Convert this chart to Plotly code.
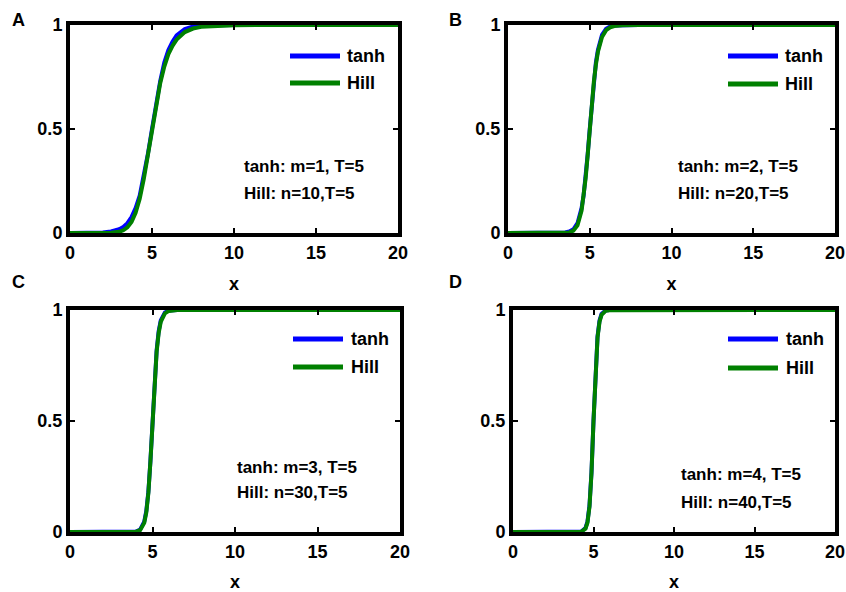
import plotly.graph_objects as go

# ---------------- data ----------------
xA = [0, 1, 2, 2.5, 3, 3.25, 3.5, 3.75, 4, 4.25, 4.5, 4.75, 5, 5.25, 5.5, 5.75,
      6, 6.25, 6.5, 7, 7.5, 8, 9, 10, 12, 20]
tanhA = [0, 0.0003, 0.0025, 0.007, 0.018, 0.029, 0.047, 0.076, 0.12, 0.18, 0.27, 0.38,
         0.5, 0.62, 0.73, 0.82, 0.88, 0.92, 0.95, 0.98, 0.993, 0.998, 1, 1, 1, 1]
hillA = [0, 0, 0.0001, 0.001, 0.006, 0.013, 0.027, 0.053, 0.097, 0.165, 0.26, 0.375,
         0.5, 0.62, 0.72, 0.80, 0.86, 0.90, 0.93, 0.966, 0.983, 0.991, 0.997, 0.999, 1, 1]

xB = [0, 2, 3, 3.5, 3.75, 4, 4.25, 4.5, 4.625, 4.75, 4.875, 5, 5.125, 5.25, 5.375,
      5.5, 5.75, 6, 6.25, 6.5, 7, 8, 20]
tanhB = [0, 0, 0.0003, 0.0025, 0.007, 0.018, 0.047, 0.12, 0.18, 0.27, 0.38, 0.5, 0.62,
         0.73, 0.82, 0.88, 0.953, 0.982, 0.993, 0.998, 1, 1, 1]
hillB = [0, 0, 0, 0.0008, 0.003, 0.011, 0.037, 0.108, 0.174, 0.264, 0.376, 0.5, 0.621,
         0.726, 0.809, 0.871, 0.942, 0.975, 0.989, 0.995, 0.999, 1, 1]

xC = [0, 3, 3.75, 4, 4.25, 4.5, 4.625, 4.75, 4.875, 5, 5.125, 5.25, 5.375, 5.5,
      5.75, 6, 6.5, 20]
tanhC = [0, 0, 0.0006, 0.0025, 0.011, 0.047, 0.095, 0.182, 0.32, 0.5, 0.68, 0.818,
         0.905, 0.953, 0.989, 0.998, 1, 1]
hillC = [0, 0, 0.0002, 0.0012, 0.008, 0.041, 0.088, 0.177, 0.319, 0.5, 0.677, 0.812,
         0.897, 0.946, 0.985, 0.996, 1, 1]

xD = [0, 3, 4, 4.25, 4.5, 4.625, 4.75, 4.875, 5, 5.125, 5.25, 5.375, 5.5, 5.75, 6, 20]
tanhD = [0, 0, 0.0003, 0.0025, 0.018, 0.047, 0.119, 0.269, 0.5, 0.731, 0.881, 0.953,
         0.982, 0.998, 1, 1]
hillD = [0, 0, 0.0001, 0.0015, 0.015, 0.042, 0.114, 0.266, 0.5, 0.729, 0.876, 0.947,
         0.978, 0.996, 0.999, 1]

panel_letters = ["A", "B", "C", "D"]
tanh_params = ["tanh: m=1, T=5", "tanh: m=2, T=5", "tanh: m=3, T=5", "tanh: m=4, T=5"]
hill_params = ["Hill: n=10,T=5", "Hill: n=20,T=5", "Hill: n=30,T=5", "Hill: n=40,T=5"]
x_ticks = [0, 5, 10, 15, 20]
x_ticktext = ["0", "5", "10", "15", "20"]
y_ticks = [0, 0.5, 1]
y_ticktext = ["0", "0.5", "1"]

series_names = ["tanh", "Hill"]

# ---------------- styling ----------------
W, H = 846, 592
FONT = "Liberation Sans, Arial, sans-serif"
BLUE = "rgb(0,0,255)"
GREEN = "rgb(0,128,0)"
COLORS = [BLUE, GREEN]

# plot areas in pixels (left, right, top, bottom)
boxes = [(70, 398, 25, 233), (508, 835, 25, 233),
         (70, 400, 310, 532), (513, 835, 310, 532)]

panels = [(xA, tanhA, hillA), (xB, tanhB, hillB), (xC, tanhC, hillC), (xD, tanhD, hillD)]

# legend layout in pixels: line start, line end, text start, row y's
legend_px = [(290, 340, 345, (56, 83)), (728, 778, 783, (56, 84)),
             (293, 343, 349, (339, 367)), (728, 778, 784, (339, 368))]
text_pos = [(10.5, 0.32, 0.19), (10.3, 0.32, 0.19), (10.0, 0.29, 0.18), (10.3, 0.26, 0.135)]
letter_pos = [(18, 20), (455, 20), (18, 282), (455, 282)]

fig = go.Figure()
layout = dict(width=W, height=H, margin=dict(l=0, r=0, t=0, b=0, autoexpand=False),
              paper_bgcolor="white", plot_bgcolor="white", showlegend=False,
              font=dict(family=FONT, color="black"), annotations=[], shapes=[])

for i, ((xs, yt, yh), (l, r, t, b)) in enumerate(zip(panels, boxes)):
    sfx = "" if i == 0 else str(i + 1)
    for name, ys, col in zip(series_names, (yt, yh), COLORS):
        fig.add_trace(go.Scatter(x=xs, y=ys, mode="lines", name=name,
                                 line=dict(color=col, width=4),
                                 xaxis="x" + sfx, yaxis="y" + sfx))
    axcommon = dict(showline=True, linecolor="black", linewidth=4, mirror="ticks",
                    ticks="inside", ticklen=5, tickwidth=2, tickcolor="black",
                    showgrid=False, zeroline=False, automargin=False,
                    ticklabeloverflow="allow",
                    tickfont=dict(family=FONT, size=18, weight="bold", color="black"))
    layout["xaxis" + sfx] = dict(axcommon, domain=[l / W, r / W], range=[0, 20],
                                 tickvals=x_ticks, ticktext=x_ticktext,
                                 anchor="y" + sfx,
                                 title=dict(text="x", standoff=17,
                                            font=dict(family=FONT, size=18, weight="bold")))
    layout["yaxis" + sfx] = dict(axcommon, domain=[1 - b / H, 1 - t / H], range=[0, 1],
                                 tickvals=y_ticks, ticktext=y_ticktext,
                                 anchor="x" + sfx)
    # legend (line samples + labels)
    x0, x1, xt, rows = legend_px[i]
    for name, col, ry in zip(series_names, COLORS, rows):
        layout["shapes"].append(dict(type="line", xref="paper", yref="paper",
                                     x0=x0 / W, x1=x1 / W, y0=1 - ry / H, y1=1 - ry / H,
                                     line=dict(color=col, width=5)))
        layout["annotations"].append(dict(text=name, x=xt / W, y=1 - ry / H,
                                          xref="paper", yref="paper", xanchor="left",
                                          yanchor="middle", showarrow=False,
                                          font=dict(family=FONT, size=18, weight="bold")))
    tx, ty1, ty2 = text_pos[i]
    for txt, ty in [(tanh_params[i], ty1), (hill_params[i], ty2)]:
        layout["annotations"].append(dict(text=txt, x=tx, y=ty, xref="x" + sfx, yref="y" + sfx,
                                          xanchor="left", yanchor="middle", showarrow=False,
                                          font=dict(family=FONT, size=17, weight="bold")))
    px, py = letter_pos[i]
    layout["annotations"].append(dict(text=panel_letters[i], x=px / W, y=1 - py / H,
                                      xref="paper", yref="paper", xanchor="center",
                                      yanchor="middle", showarrow=False,
                                      font=dict(family=FONT, size=18, weight="bold")))

fig.update_layout(**layout)
fig.write_html("out.html", config={"displayModeBar": False},
               post_script="document.body.style.margin='0px';document.body.style.padding='0px';")
